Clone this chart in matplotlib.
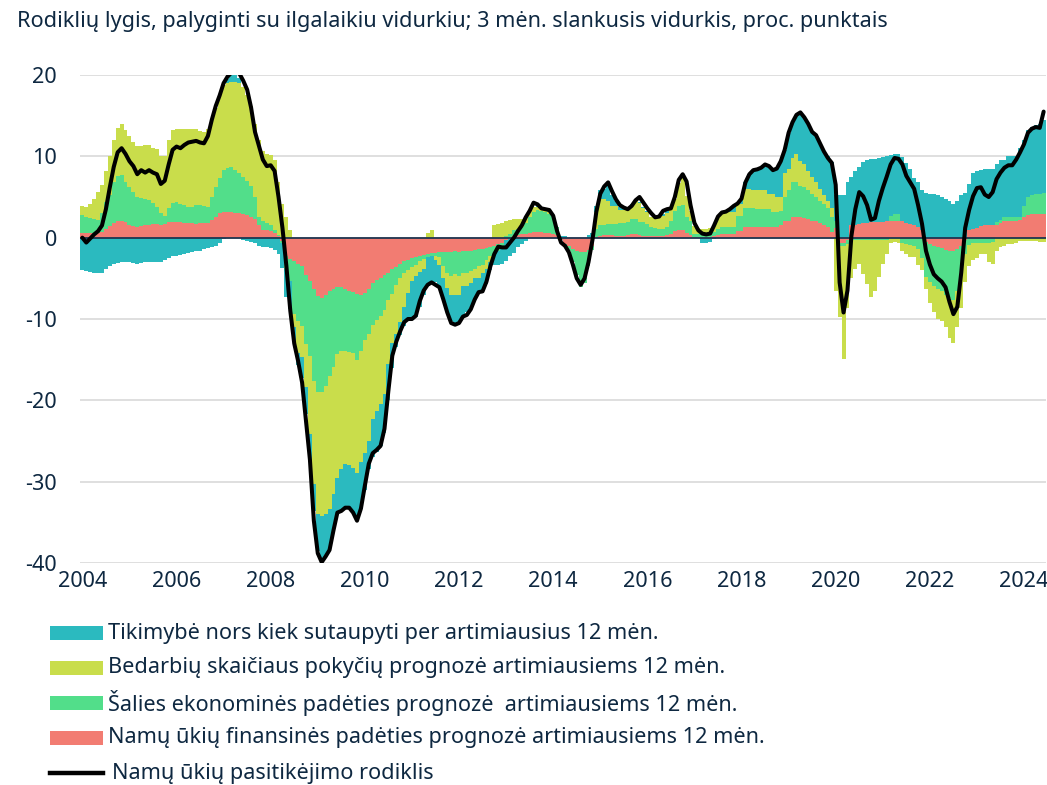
import numpy as np
import matplotlib
matplotlib.use("Agg")
import matplotlib.pyplot as plt
from matplotlib.patches import Rectangle
from matplotlib.lines import Line2D

plt.rcParams['font.family'] = ['Noto Sans', 'DejaVu Sans']
plt.rcParams['axes.unicode_minus'] = False

# ---------------- data (monthly, 2004-01 .. 2024-06) ----------------
years = [str(y) for y in range(2004, 2025, 2)]

# Namų ūkių finansinės padėties prognozė (red)
fin = [
    0.6, 0.6, 0.6, 0.6, 0.6, 0.7, 1.1, 1.4, 1.8, 2.0, 2.1, 1.9,
    1.5, 1.4, 1.35, 1.4, 1.5, 1.6, 1.7, 1.7, 1.6, 1.7, 1.9, 1.9,
    1.9, 1.9, 1.8, 1.8, 1.8, 1.7, 1.8, 1.8, 1.8, 2.2, 2.5, 3.0,
    3.2, 3.2, 3.1, 3.0, 3.0, 2.9, 2.8, 2.6, 2.3, 1.6, 1.0, 0.9,
    0.86, 0.6, 0.2, -0.4, -2.3, -2.6, -2.9, -3.2, -3.5, -4.6, -5.3, -6.3,
    -7.2, -7.4, -7.0, -6.6, -6.3, -6.1, -6.1, -6.3, -6.5, -6.7, -6.9, -7.1,
    -6.8, -6.3, -5.6, -5.2, -4.9, -4.6, -4.3, -3.9, -3.6, -3.2, -2.9, -2.7,
    -2.5, -2.4, -2.2, -2.1, -2.0, -1.9, -1.9, -1.8, -1.8, -1.8, -1.8, -1.7,
    -1.8, -1.7, -1.6, -1.6, -1.5, -1.4, -1.4, -1.3, -1.2, -1.0, -0.8, -0.6,
    -0.3, 0.0, 0.2, 0.3, 0.4, 0.5, 0.6, 0.7, 0.7, 0.7, 0.6, 0.6,
    0.5, 0.3, -0.3, -0.8, -1.0, -1.4, -1.6, -1.8, -1.8, -1.5, -1.0, 0.1,
    0.25, 0.3, 0.3, 0.3, 0.25, 0.25, 0.25, 0.3, 0.45, 0.45, 0.3, 0.25,
    0.2, 0.15, 0.15, 0.25, 0.25, 0.3, 0.5, 0.8, 0.95, 0.95, 0.6, 0.3,
    0.1, 0.05, 0.0, 0.0, 0.05, 0.15, 0.3, 0.4, 0.45, 0.45, 0.5, 0.85,
    0.85, 1.35, 1.35, 1.35, 1.35, 1.35, 1.35, 1.35, 1.35, 1.35, 1.5, 2.1,
    2.1, 2.5, 2.5, 2.5, 2.4, 2.3, 2.1, 2.0, 1.8, 1.5, 1.3, 0.65,
    1.2, -0.6, -0.6, -0.3, 1.5, 1.6, 1.7, 1.8, 1.8, 1.9, 1.9, 1.9,
    1.9, 2.0, 2.1, 2.1, 2.1, 2.0, 1.8, 1.7, 1.6, 1.3, 0.9, -0.5,
    -0.8, -1.0, -1.2, -1.3, -1.5, -1.6, -1.6, -1.4, -1.0, -0.3, 1.0, 1.1,
    1.2, 1.4, 1.5, 1.5, 1.5, 1.6, 1.8, 2.0, 2.1, 2.1, 2.1, 2.2,
    2.6, 2.8, 2.9, 2.9, 2.9, 2.9,
]

# Šalies ekonominės padėties prognozė (green)
eco = [
    2.2, 2.0, 1.8, 1.7, 1.6, 2.3, 3.3, 3.8, 5.0, 5.6, 5.6, 4.9,
    4.7, 4.2, 3.65, 3.5, 3.3, 3.0, 2.6, 2.1, 1.4, 1.0, 1.7, 2.4,
    2.5, 2.3, 2.2, 2.0, 2.0, 2.3, 2.2, 2.1, 2.0, 2.8, 3.7, 4.3,
    5.1, 5.4, 5.6, 5.3, 4.9, 4.6, 4.2, 3.8, 2.7, 0.9, 1.0, 0.9,
    0.74, 0.4, 0.1, -0.3, -1.5, -2.7, -6.5, -7.0, -7.3, -8.5, -9.2, -11.3,
    -11.8, -11.6, -11.2, -10.4, -9.6, -8.2, -7.8, -7.6, -7.5, -7.5, -8.2, -6.8,
    -5.8, -5.5, -5.1, -4.9, -4.7, -4.3, -3.4, -3.0, -2.2, -1.7, -1.4, -1.3,
    -1.1, -0.9, -0.7, -0.5, -0.4, -0.4, -0.3, -0.6, -1.7, -2.5, -2.9, -2.8,
    -2.9, -2.6, -2.7, -2.5, -2.4, -2.1, -1.9, -1.5, -1.0, -1.0, -0.9, -0.8,
    0.2, 0.5, 0.7, 0.8, 0.9, 1.3, 2.0, 2.5, 2.7, 2.6, 2.5, 2.3,
    2.0, 1.0, 0.0, -0.2, -0.6, -1.6, -3.0, -4.3, -3.8, -2.0, -0.5, 1.0,
    1.25, 1.2, 1.4, 1.4, 1.45, 1.5, 1.6, 1.6, 1.85, 1.85, 1.6, 1.65,
    1.5, 1.15, 1.1, 0.85, 0.85, 1.0, 1.5, 2.5, 3.0, 3.1, 2.0, 1.8,
    0.4, 0.4, 0.5, 0.5, 0.5, 0.6, 0.8, 0.9, 0.85, 0.85, 0.8, 1.85,
    1.85, 2.35, 2.35, 2.35, 2.15, 2.15, 2.15, 2.15, 1.75, 1.75, 1.8, 2.9,
    3.7, 4.3, 4.3, 3.9, 3.8, 3.5, 3.3, 3.0, 2.7, 2.6, 2.3, 1.85,
    0.8, -0.4, -0.4, -0.5, -0.4, -0.3, -0.3, -0.3, -0.3, -0.3, -0.3, -0.3,
    -0.3, -0.3, 0.6, 0.8, 0.8, -0.6, -0.8, -0.9, -1.0, -1.4, -2.5, -4.3,
    -4.7, -5.0, -5.1, -5.3, -5.6, -5.8, -6.1, -5.1, -3.5, -1.7, -0.9, -0.7,
    -0.7, -0.6, -0.6, -0.6, -0.5, 0.3, 0.4, 0.5, 0.5, 0.4, 0.4, 0.4,
    1.3, 2.2, 2.4, 2.5, 2.5, 2.6,
]

# Bedarbių skaičiaus pokyčių prognozė (yellow-green)
unemp = [
    1.1, 1.2, 1.8, 2.4, 3.4, 3.5, 3.8, 4.8, 5.2, 5.9, 6.3, 6.4,
    6.3, 6.2, 6.3, 6.4, 6.6, 6.8, 6.7, 7.1, 7.0, 7.3, 8.4, 8.9,
    9.0, 9.1, 9.3, 9.5, 9.6, 9.4, 9.1, 9.1, 9.5, 9.5, 9.8, 10.2,
    10.5, 10.4, 10.5, 10.9, 11.1, 11.0, 10.6, 9.8, 9.0, 9.5, 8.6, 8.5,
    8.6, 8.5, 6.5, 4.2, 2.5, 1.0, -1.6, -4.0, -3.9, -5.3, -9.6, -12.7,
    -15.0, -15.2, -15.8, -16.3, -15.6, -15.2, -14.6, -13.9, -14.0, -14.1, -13.8, -13.7,
    -13.9, -13.2, -11.6, -11.2, -10.9, -10.3, -7.8, -6.1, -6.0, -5.5, -4.2, -2.8,
    -1.7, -1.4, -1.3, -1.2, 0.6, 0.9, -0.6, -0.9, -1.5, -1.9, -2.4, -2.5,
    -2.4, -1.6, -1.6, -1.5, -1.1, -1.4, -1.0, -1.1, -0.8, 1.5, 1.7, 1.8,
    1.9, 1.7, 1.4, 1.2, 1.0, 0.8, 0.7, 0.6, 0.4, 0.3, 0.3, 0.2,
    0.1, 0.0, 0.0, 0.0, 0.0, 0.0, 0.0, 0.0, 0.0, 0.0, 0.0, 2.0,
    3.3, 3.3, 2.8, 2.2, 2.2, 1.6, 1.5, 1.5, 1.7, 2.2, 2.4, 1.8,
    1.5, 1.2, 1.3, 1.5, 1.6, 1.7, 1.5, 1.5, 2.8, 3.3, 2.5, 1.2,
    0.9, 0.8, 0.6, 0.6, 0.6, 0.8, 1.6, 1.8, 1.8, 1.8, 1.8, 1.4,
    1.4, 2.3, 2.3, 2.2, 2.3, 2.3, 2.3, 1.9, 2.3, 1.9, 1.7, 3.0,
    2.7, 3.0, 3.5, 3.0, 2.8, 2.4, 2.0, 1.8, 1.5, 1.1, 0.9, 1.2,
    -6.5, -8.8, -13.9, -7.8, -4.6, -3.5, -2.9, -4.2, -5.4, -7.0, -6.2, -4.5,
    -2.9, -1.7, -0.6, -0.5, -0.6, -1.0, -1.2, -1.5, -1.4, -2.0, -1.5, -1.5,
    -2.5, -3.2, -3.7, -3.6, -3.9, -4.9, -5.3, -4.5, -4.1, -3.5, -2.6, -2.1,
    -1.8, -1.4, -1.4, -2.4, -2.7, -1.6, -1.2, -1.0, -0.8, -0.8, -0.6, -0.4,
    -0.4, -0.4, -0.4, -0.4, -0.5, -0.5,
]

# Tikimybė nors kiek sutaupyti (teal)
sav = [
    -4.0, -4.1, -4.2, -4.4, -4.4, -4.4, -3.8, -3.5, -3.2, -3.1, -3.0, -3.0,
    -3.0, -3.1, -3.2, -3.1, -3.0, -3.0, -3.0, -3.0, -3.0, -2.8, -2.5, -2.3,
    -2.2, -2.1, -2.0, -1.9, -1.8, -1.7, -1.6, -1.4, -1.3, -1.2, -1.0, -0.7,
    -0.2, 0.5, 0.8, 0.8, 0.6, -0.3, -0.4, -0.5, -0.7, -1.0, -1.1, -1.2,
    -1.3, -1.5, -2.0, -3.0, -3.5, -3.5, -1.8, -1.5, -2.5, -3.3, -3.3, -3.3,
    -4.5, -5.3, -5.0, -4.7, -4.5, -4.5, -5.1, -5.4, -5.2, -5.5, -5.6, -5.7,
    -4.5, -3.5, -4.7, -5.0, -5.1, -4.8, -4.5, -3.0, -1.7, -1.6, -2.3, -3.4,
    -4.7, -5.1, -4.3, -3.2, -3.6, -3.2, -2.7, -2.7, -2.5, -2.8, -3.2, -3.7,
    -3.3, -3.7, -3.3, -3.0, -2.5, -1.9, -2.2, -1.8, -1.0, -1.4, -1.7, -1.8,
    -2.6, -2.2, -1.9, -1.2, -0.8, -0.4, -0.1, 0.0, 0.1, 0.1, 0.1, 0.2,
    0.1, 0.0, 0.2, 0.2, 0.0, 0.0, 0.0, 0.0, 0.0, 0.3, 0.6, 0.8,
    1.0, 1.2, 2.0, 1.3, 0.6, 0.4, 0.3, 0.2, 0.1, 0.1, 0.1, 0.1,
    0.1, 0.0, 0.0, 0.0, 0.2, 0.3, 0.1, 0.0, 0.0, 0.0, 0.0, 0.0,
    0.0, 0.0, -0.6, -0.7, -0.5, -0.2, -0.1, 0.0, 0.1, 0.4, 0.8, 0.1,
    0.7, 0.8, 1.8, 2.4, 2.6, 2.8, 3.2, 3.4, 2.9, 3.5, 4.4, 2.8,
    4.4, 4.4, 4.8, 6.0, 5.8, 5.8, 5.6, 5.8, 5.5, 5.4, 5.5, 5.6,
    3.2, 5.2, 5.3, 6.8, 6.0, 6.6, 7.0, 7.5, 7.7, 7.8, 7.8, 7.9,
    8.0, 8.0, 7.5, 7.4, 7.4, 7.9, 7.4, 6.8, 5.7, 5.5, 4.9, 5.5,
    5.4, 5.4, 5.3, 5.0, 4.8, 4.5, 4.2, 4.5, 5.2, 5.5, 5.6, 6.9,
    7.0, 6.9, 6.9, 6.9, 7.0, 7.1, 7.3, 7.1, 7.4, 7.6, 7.6, 8.4,
    8.1, 8.2, 8.3, 8.4, 8.6, 9.0,
]

# Namų ūkių pasitikėjimo rodiklis (black line)
conf = [
    0.0, -0.6, -0.1, 0.4, 0.8, 1.5, 3.5, 6.2, 8.7, 10.5, 11.0, 10.3,
    9.4, 8.8, 7.8, 8.3, 8.0, 8.3, 8.0, 7.8, 6.6, 7.0, 9.0, 10.8,
    11.2, 11.0, 11.4, 11.7, 11.8, 11.9, 11.7, 11.6, 12.5, 14.5, 16.2, 17.5,
    19.0, 19.8, 20.3, 20.4, 20.2, 19.3, 18.2, 16.0, 13.0, 11.3, 9.6, 8.8,
    8.9, 8.2, 5.0, 1.2, -3.5, -9.0, -13.0, -15.2, -17.8, -22.5, -27.3, -34.8,
    -38.8, -39.9, -39.2, -38.4, -36.0, -33.8, -33.6, -33.2, -33.2, -33.8, -34.8, -33.3,
    -30.5, -27.8, -26.5, -26.1, -25.6, -23.5, -18.8, -14.5, -12.8, -11.5, -10.4, -10.0,
    -10.0, -9.6, -7.8, -6.5, -5.8, -5.5, -5.8, -6.1, -7.6, -9.2, -10.5, -10.7,
    -10.5, -9.7, -9.5, -8.8, -7.6, -6.7, -6.6, -5.4, -3.5, -2.0, -1.1, -1.2,
    -1.2, -0.6, 0.0, 0.8, 1.5, 2.5, 3.3, 4.3, 4.1, 3.6, 3.5, 3.4,
    2.7, 0.8, -0.6, -1.0, -1.8, -3.3, -5.0, -5.8, -5.0, -3.0, -0.3, 3.2,
    5.4, 6.3, 6.8, 5.7, 4.7, 4.0, 3.7, 3.5, 3.9, 4.6, 5.0, 4.3,
    3.6, 3.0, 2.5, 2.6, 3.3, 3.5, 3.6, 5.0, 7.1, 7.8, 6.9, 4.0,
    1.8, 0.9, 0.5, 0.4, 0.5, 1.5, 2.6, 3.1, 3.2, 3.5, 3.9, 4.2,
    4.8, 6.8, 7.8, 8.3, 8.4, 8.6, 9.0, 8.8, 8.3, 8.5, 9.4, 10.8,
    12.9, 14.2, 15.1, 15.4, 14.8, 14.0, 13.0, 12.6, 11.6, 10.6, 9.8, 9.2,
    6.5, -5.5, -9.2, -6.5, 0.2, 3.5, 5.6, 5.1, 4.0, 2.2, 2.4, 4.5,
    6.1, 7.5, 9.0, 9.8, 9.7, 9.0, 7.6, 6.8, 6.0, 4.0, 1.7, -1.6,
    -3.3, -4.5, -5.0, -5.4, -6.1, -7.9, -9.4, -8.5, -4.3, 1.2, 3.4, 5.1,
    6.1, 6.2, 5.3, 5.0, 5.6, 7.2, 8.0, 8.6, 8.9, 8.9, 9.6, 10.5,
    11.5, 12.9, 13.4, 13.6, 13.5, 15.5,
]

labels = [
    "Tikimybė nors kiek sutaupyti per artimiausius 12 mėn.",
    "Bedarbių skaičiaus pokyčių prognozė artimiausiems 12 mėn.",
    "Šalies ekonominės padėties prognozė  artimiausiems 12 mėn.",
    "Namų ūkių finansinės padėties prognozė artimiausiems 12 mėn.",
    "Namų ūkių pasitikėjimo rodiklis",
]
title = "Rodiklių lygis, palyginti su ilgalaikiu vidurkiu; 3 mėn. slankusis vidurkis, proc. punktais"

# ---------------- styling ----------------
TXT = "#0E2841"
C_RED = "#F27C72"
C_GREEN = "#52DE8A"
C_YEL = "#C9DD4B"
C_TEAL = "#2BBABF"
FS = 15.6

W, H = 1047, 785
fig = plt.figure(figsize=(W / 100, H / 100), dpi=100)
ax = fig.add_axes([80 / W, 1 - 563 / H, 966 / W, 488 / H])

n = len(conf)
x = np.arange(n)
pos_b = np.zeros(n)
neg_b = np.zeros(n)
for vals, col in [(fin, C_RED), (eco, C_GREEN), (unemp, C_YEL), (sav, C_TEAL)]:
    v = np.asarray(vals, dtype=float)
    p = np.where(v > 0, v, 0.0)
    q = np.where(v < 0, v, 0.0)
    mp = p > 0
    mq = q < 0
    ax.bar(x[mp], p[mp], bottom=pos_b[mp], width=1.0, color=col, linewidth=0,
           antialiased=False, zorder=2)
    ax.bar(x[mq], q[mq], bottom=neg_b[mq], width=1.0, color=col, linewidth=0,
           antialiased=False, zorder=2)
    pos_b += p
    neg_b += q

ax.axhline(0, color="#1F3550", linewidth=1.3, zorder=3)
ax.plot(x, conf, color="black", linewidth=2.9, solid_joinstyle="round",
        solid_capstyle="round", zorder=4)

ax.set_ylim(-40, 20)
ax.set_xlim(-0.6, n - 0.4)
ax.set_yticks([-40, -30, -20, -10, 0, 10, 20])
ax.set_xticks(np.arange(0, n, 24))
ax.set_xticklabels(years)
ax.grid(axis="y", color="#D9D9D9", linewidth=1.2, zorder=0)
ax.set_axisbelow(True)
for s in ax.spines.values():
    s.set_visible(False)
ax.tick_params(axis="both", length=0, labelsize=FS, colors=TXT)
ax.tick_params(axis="y", pad=16.5)
ax.tick_params(axis="x", pad=6)

fig.text(17 / W, 1 - 21 / H, title, fontsize=FS, color=TXT, va="center", ha="left")

# ---------------- legend (manual, below the plot) ----------------
rows_y = [633, 668, 703, 738]
cols = [C_TEAL, C_YEL, C_GREEN, C_RED]
for yy, col, lab in zip(rows_y, cols, labels[:4]):
    fig.patches.append(Rectangle((50 / W, 1 - (yy + 7) / H), 53 / W, 14 / H,
                                 transform=fig.transFigure, facecolor=col,
                                 edgecolor="none"))
    fig.text(108 / W, 1 - yy / H, lab, fontsize=FS, color=TXT, va="center", ha="left")
fig.add_artist(Line2D([50 / W, 103 / W], [1 - 773 / H, 1 - 773 / H],
                      transform=fig.transFigure, color="black", linewidth=3.2))
fig.text(112 / W, 1 - 773 / H, labels[4], fontsize=FS, color=TXT, va="center", ha="left")

fig.savefig("out.png", dpi=100)
